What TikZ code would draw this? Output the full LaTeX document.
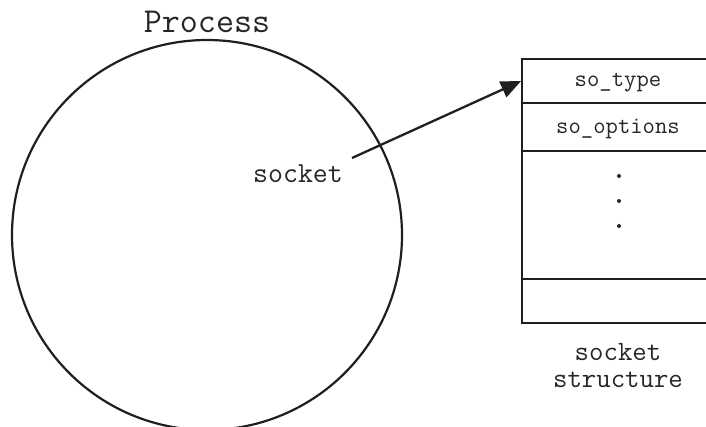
\documentclass[tikz,border=0pt]{standalone}
\usepackage{fontspec}
\usetikzlibrary{arrows.meta}
\begin{document}
\begin{tikzpicture}[x=1pt,y=-1pt,
  ink/.style={draw=black!88, line width=2.2pt},
  lbl/.style={font=\ttfamily, text=black!85, inner sep=0pt, anchor=center},
  rowbox/.style={ink, minimum width=240pt, inner sep=0pt, anchor=north west, rectangle},
  dotmark/.style={circle, fill=black!85, inner sep=0pt, minimum size=4pt}]
  \useasboundingbox (0,0) rectangle (706,427);
  \clip (0,0) rectangle (706,427);

  % the process
  \node[ink, circle, minimum size=390pt, inner sep=0pt] (proc) at (207,235) {};
  \node[lbl, font=\ttfamily\fontsize{35}{37}\selectfont] (ptitle) at (207,22) {Process};
  \node[lbl, font=\ttfamily\fontsize{29}{31}\selectfont] (sock) at (298,174) {socket};

  % the socket structure, running off to the right
  \node[rowbox, minimum height=44pt] (rtype) at (521,58) {};
  \node[rowbox, minimum height=48pt] (ropt) at (521,102) {};
  \node[rowbox, minimum height=128pt] (rmid) at (521,150) {};
  \node[rowbox, minimum height=44pt] (rlast) at (521,278) {};

  \node[lbl, font=\ttfamily\fontsize{24}{26}\selectfont] (ttype) at (618,83) {so\_type};
  \node[lbl, font=\ttfamily\fontsize{24}{26}\selectfont] (topt) at (618,129) {so\_options};
  \node[dotmark] (d1) at (619,176) {};
  \node[dotmark] (d2) at (619,201) {};
  \node[dotmark] (d3) at (619,226) {};

  \node[lbl, font=\ttfamily\fontsize{28}{27}\selectfont, align=center] (cap) at (618,366) {socket\\structure};

  % pointer from the process to the structure
  \coordinate (sptr) at (352,158);
  \draw[draw=black!88, line width=2.3pt, -{Triangle[length=20pt,width=17pt]}] (sptr) -- (rtype.west);
\end{tikzpicture}
\end{document}
